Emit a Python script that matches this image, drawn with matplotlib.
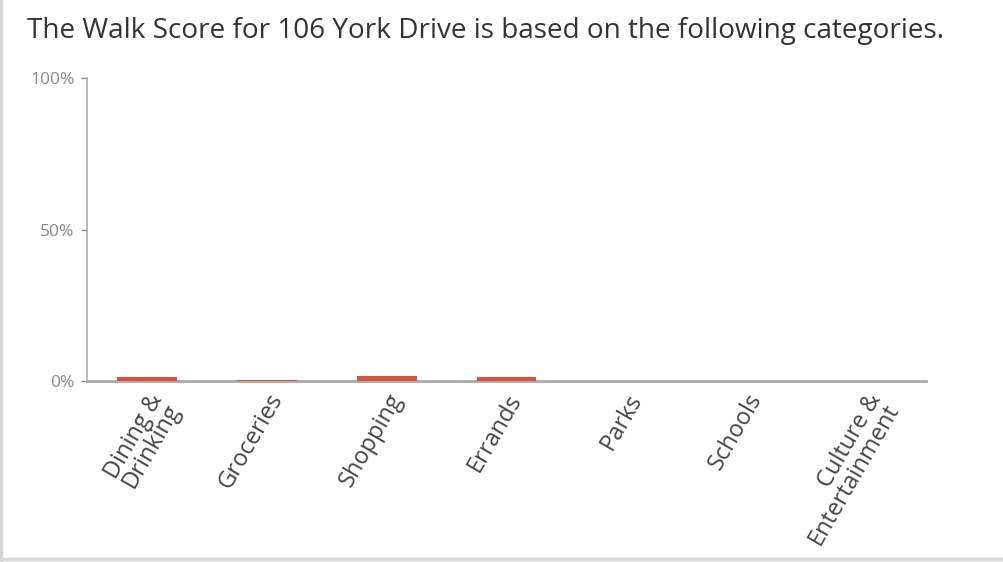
import matplotlib
matplotlib.use("Agg")
import matplotlib.pyplot as plt
from matplotlib.lines import Line2D
from matplotlib.ticker import FuncFormatter
from matplotlib.transforms import ScaledTranslation

categories = ["Dining &\nDrinking", "Groceries", "Shopping", "Errands",
              "Parks", "Schools", "Culture &\nEntertainment"]
scores = [1.3, 0.3, 1.7, 1.3, 0, 0, 0]
y_ticks = [0, 50, 100]
title = "The Walk Score for 106 York Drive is based on the following categories."

plt.rcParams['font.family'] = ['Open Sans', 'DejaVu Sans']

W, H = 1004, 562
fig = plt.figure(figsize=(W / 100, H / 100), dpi=100)
ax = fig.add_axes([87 / W, 1 - 381 / H, (926 - 87) / W, (381 - 78) / H])

x = list(range(len(categories)))
ax.bar(x, scores, width=0.5, color='#d2553f', zorder=3)
ax.set_xlim(-0.5, len(categories) - 0.5)
ax.set_ylim(0, 100)
ax.set_yticks(y_ticks)
ax.yaxis.set_major_formatter(FuncFormatter(lambda v, p: f'{v:.0f}%'))
ax.set_xticks(x)
ax.set_xticklabels(categories, rotation=60, ha='right', va='top',
                   rotation_mode='anchor', fontsize=17, color='#444444',
                   linespacing=0.8)
shift = ScaledTranslation(-5 / 100, 0, fig.dpi_scale_trans)
for lbl in ax.get_xticklabels():
    lbl.set_transform(lbl.get_transform() + shift)

for s in ['top', 'right']:
    ax.spines[s].set_visible(False)
ax.spines['left'].set_color('#aaaaaa')
ax.spines['left'].set_linewidth(1.2)
ax.spines['bottom'].set_color('#aaaaaa')
ax.spines['bottom'].set_linewidth(2)
ax.tick_params(axis='y', colors='#888888', labelcolor='#888888', labelsize=12.5,
               length=4, width=1, pad=5)
ax.tick_params(axis='x', length=0, pad=6)

fig.text(27 / W, 1 - 31 / H, title, fontsize=20.1, color='#333333',
         ha='left', va='center')

# page border on left and bottom
fig.add_artist(Line2D([1 / W, 1 / W], [0, 1], color='#d6d6d6', lw=2.5,
                      transform=fig.transFigure))
fig.add_artist(Line2D([0, 1], [3 / H, 3 / H], color='#d6d6d6', lw=2.5,
                      transform=fig.transFigure))

fig.savefig("out.png", dpi=100)
